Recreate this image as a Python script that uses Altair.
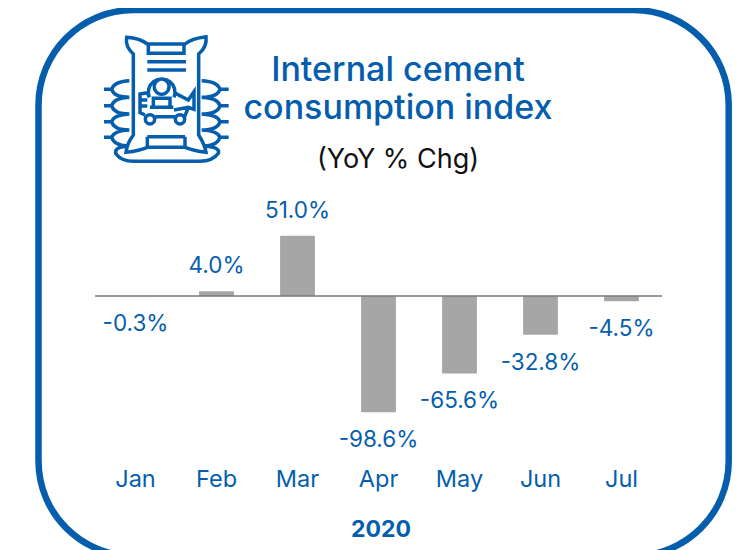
import altair as alt
import pandas as pd

months = ["Jan", "Feb", "Mar", "Apr", "May", "Jun", "Jul"]
values = [-0.3, 4.0, 51.0, -98.6, -65.6, -32.8, -4.5]
labels = ["-0.3%", "4.0%", "51.0%", "-98.6%", "-65.6%", "-32.8%", "-4.5%"]
title_lines = ["Internal cement", "consumption index"]
subtitle = "(YoY % Chg)"
year = "2020"

BLUE = "#055EAD"
FONT = "Inter"

df = pd.DataFrame({"month": months, "value": values, "label": labels})

W, H = 724, 542
px = lambda v: v - 8

xs = alt.Scale(domain=months, range=[px(95), px(662)], paddingInner=0.57, paddingOuter=0.285)
ys = alt.Scale(domain=[-215.25, 244], range=[H, 0], nice=False, zero=False)
x = alt.X("month:N", scale=xs, axis=None, sort=months)

border = alt.Chart(pd.DataFrame({"a": [0]})).mark_rect(
    filled=False, stroke=BLUE, strokeWidth=6.5, cornerRadius=95, clip=False
).encode(x=alt.value(px(38.5)), x2=alt.value(px(728.7)), y=alt.value(px(10)), y2=alt.value(px(556)))

bars = alt.Chart(df).mark_bar(color="#A6A6A6", cornerRadius=1).encode(
    x=x, y=alt.Y("value:Q", scale=ys, axis=None), y2=alt.Y2(datum=0)
)
zero = alt.Chart(pd.DataFrame({"z": [0]})).mark_rule(color="#7A7A7A", strokeWidth=1.5).encode(
    y=alt.Y("z:Q", scale=ys, axis=None), x=alt.value(px(95)), x2=alt.value(px(662))
)
up = alt.Chart(df[df.value > 0]).mark_text(font=FONT, fontSize=22.5, color=BLUE, dy=-25, baseline="middle").encode(
    x=x, y=alt.Y("value:Q", scale=ys, axis=None), text="label:N"
)
down = alt.Chart(df[df.value < 0]).mark_text(font=FONT, fontSize=22.5, color=BLUE, dy=28, baseline="middle").encode(
    x=x, y=alt.Y("value:Q", scale=ys, axis=None), text="label:N"
)
month_text = alt.Chart(df).mark_text(font=FONT, fontSize=23.5, color=BLUE, baseline="middle").encode(
    x=x, y=alt.value(px(480)), text="month:N"
)
year_text = alt.Chart(pd.DataFrame({"t": [year]})).mark_text(font=FONT, fontSize=23, fontWeight="bold", color=BLUE, baseline="middle").encode(
    x=alt.value(px(381)), y=alt.value(px(530)), text="t:N"
)
t1 = alt.Chart(pd.DataFrame({"t": [title_lines[0]]})).mark_text(font=FONT, fontSize=34, fontWeight=500, color=BLUE, baseline="middle").encode(
    x=alt.value(px(398)), y=alt.value(px(71)), text="t:N"
)
t2 = alt.Chart(pd.DataFrame({"t": [title_lines[1]]})).mark_text(font=FONT, fontSize=34, fontWeight=500, color=BLUE, baseline="middle").encode(
    x=alt.value(px(398)), y=alt.value(px(109)), text="t:N"
)
sub = alt.Chart(pd.DataFrame({"t": [subtitle]})).mark_text(font=FONT, fontSize=27, color="#111111", baseline="middle").encode(
    x=alt.value(px(398)), y=alt.value(px(160)), text="t:N"
)

# decorative icon outline, written in a 450-unit box
icon_segments = [
    "M110 52 Q150 55 172 72 L285 72 Q305 55 348 50 Q352 80 326 102 L326 345 Q345 375 348 397 Q310 392 285 382 L172 382 Q150 392 108 397 Q110 372 130 345 L130 102 Q105 80 110 52 Z",
    "M175 72 L175 100 L282 100 L282 72",
    "M172 350 L172 382 M285 350 L285 382 M172 350 L285 350",
    "M172 125 L288 125 M172 150 L288 150",
    "M193 200 A22 22 0 1 0 237 200 A22 22 0 1 0 193 200",
    "M178 232 A40 40 0 1 1 252 232",
    "M178 232 L172 218 L150 222 L150 278 L165 285",
    "M152 240 L172 240 M152 258 L172 258",
    "M190 262 L190 235 L240 235 L240 262 M180 262 L250 262",
    "M252 218 L295 240 L312 215 L312 268 L295 262 L252 270",
    "M196 290 L255 290 M284 290 L295 262",
    "M166 298 A14 14 0 1 0 194 298 A14 14 0 1 0 166 298",
    "M256 298 A14 14 0 1 0 284 298 A14 14 0 1 0 256 298",
    "M118 182 Q72 184 65 208 L42 208 M65 208 Q72 232 118 232 Q72 234 65 257 L42 257 M65 257 Q72 282 118 282 Q72 284 65 305 L42 305 M65 305 Q72 330 118 330 Q72 332 65 352 L42 352 M65 352 Q72 376 112 378",
    "M335 182 Q383 184 390 208 L416 208 M390 208 Q383 232 335 232 Q383 234 390 257 L416 257 M390 257 Q383 282 335 282 Q383 284 390 305 L416 305 M390 305 Q383 330 335 330 Q383 332 390 352 L416 352 M390 352 Q383 376 345 378",
    "M112 378 Q70 382 78 402 Q95 424 130 424 L330 424 Q368 424 385 400 Q392 382 345 378",
]

def to_unit(seg):
    out, is_x = [], True
    toks = seg.split()
    i = 0
    while i < len(toks):
        t = toks[i]
        if t[0] == "A":
            out += [f"A{float(t[1:])/225:.4f}", f"{float(toks[i+1])/225:.4f}", toks[i+2], toks[i+3], toks[i+4]]
            i += 5
            is_x = True
            continue
        if t[0].isalpha():
            cmd, t = t[0], t[1:]
            if cmd == "Z":
                out.append("Z")
                i += 1
                continue
            out.append(f"{cmd}{(float(t)-225)/225:.4f}")
            is_x = False
        else:
            out.append(f"{(float(t)-225)/225:.4f}")
            is_x = not is_x
        i += 1
    return " ".join(out)

icon_path = " ".join(to_unit(s) for s in icon_segments)
icon = alt.Chart(pd.DataFrame({"a": [0]})).mark_point(
    shape=icon_path, size=150 ** 2, filled=False, stroke=BLUE, strokeWidth=3.5, opacity=1
).encode(x=alt.value(px(165)), y=alt.value(px(95)))

chart = alt.layer(border, bars, zero, up, down, month_text, year_text, t1, t2, sub, icon).properties(
    width=W, height=H, padding=0, background="white",
    autosize=alt.AutoSizeParams(type="none"),
).configure_view(stroke=None)

chart.save("out.html", embed_options={"renderer": "svg", "actions": False})
